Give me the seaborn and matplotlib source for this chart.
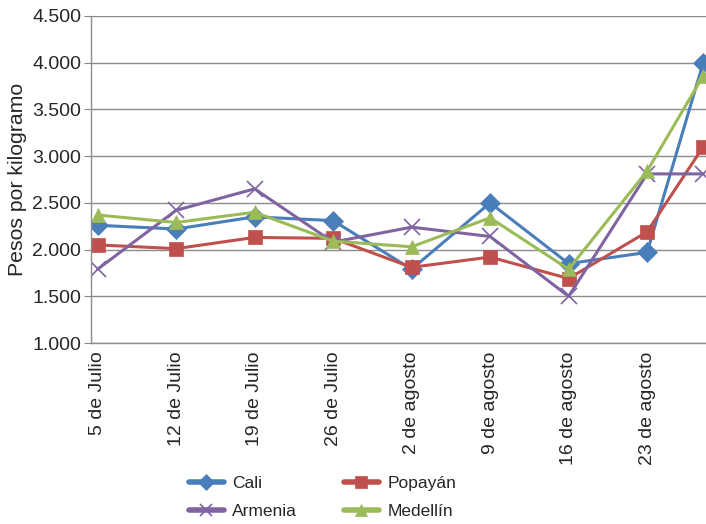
import pandas as pd
import numpy as np
import matplotlib
matplotlib.use("Agg")
import matplotlib.pyplot as plt
import seaborn as sns
from matplotlib.ticker import FuncFormatter

# -------------------
# Datos
# -------------------
fechas = ["2013-07-05", "2013-07-12", "2013-07-19", "2013-07-26", "2013-08-02",
          "2013-08-09", "2013-08-16", "2013-08-23", "2013-08-28"]
etiquetas = ["5 de Julio", "12 de Julio", "19 de Julio", "26 de Julio", "2 de agosto",
             "9 de agosto", "16 de agosto", "23 de agosto"]

cali = [2260, 2220, 2350, 2310, 1790, 2500, 1850, 1970, 4000]
popayan = [2050, 2010, 2130, 2120, 1810, 1920, 1690, 2190, 3100]
armenia = [1790, 2420, 2650, 2080, 2240, 2140, 1500, 2810, 2810]
medellin = [2370, 2290, 2400, 2090, 2030, 2340, 1790, 2840, 3860]

series = {"Cali": cali, "Popayán": popayan, "Armenia": armenia, "Medellín": medellin}
colores = {"Cali": "#4A7EBB", "Popayán": "#C0504D", "Armenia": "#8064A2", "Medellín": "#9BBB59"}
marcadores = {"Cali": "D", "Popayán": "s", "Armenia": "x", "Medellín": "^"}

df = pd.DataFrame([
    {"fecha": pd.Timestamp(f), "ciudad": c, "precio": v}
    for c, vals in series.items() for f, v in zip(fechas, vals)
])

# -------------------
# Grafico
# -------------------
sns.set_style("white")
plt.rcParams["font.family"] = ["Liberation Sans", "DejaVu Sans"]

fig = plt.figure(figsize=(7.06, 5.24), dpi=100)
ax = fig.add_axes([0.129, 0.3454, 0.871, 0.6241])

for ciudad in series:
    sub = df[df["ciudad"] == ciudad]
    m = marcadores[ciudad]
    sns.lineplot(data=sub, x="fecha", y="precio", ax=ax, color=colores[ciudad],
                 marker=m, markersize=10 if m != "x" else 11,
                 markeredgewidth=1.2 if m == "x" else 0.5,
                 markeredgecolor=colores[ciudad], linewidth=2.2, label=ciudad)

ax.set_ylim(1000, 4500)
ax.set_yticks(np.arange(1000, 4501, 500))
ax.yaxis.set_major_formatter(FuncFormatter(lambda v, p: f"{int(v):,}".replace(",", ".")))

x0 = pd.Timestamp(fechas[0])
ax.set_xlim(x0 - pd.Timedelta(days=0.58), pd.Timestamp(fechas[-1]) + pd.Timedelta(days=0.25))
ax.set_xticks([pd.Timestamp(f) for f in fechas[:8]])
ax.set_xticklabels(etiquetas, rotation=90)
ax.tick_params(axis="x", length=0, labelsize=14, pad=6)
ax.tick_params(axis="y", length=5, color="#868686", labelsize=14, left=True, pad=2)

ax.grid(axis="y", color="#8c8c8c", linewidth=1)
ax.grid(axis="x", visible=False)
for s in ["top", "right"]:
    ax.spines[s].set_visible(False)
for s in ["left", "bottom"]:
    ax.spines[s].set_color("#8c8c8c")
    ax.spines[s].set_linewidth(1)

ax.set_xlabel("")
ax.set_ylabel("Pesos por kilogramo", fontsize=15.3, labelpad=4)

h, l = ax.get_legend_handles_labels()
ax.get_legend().remove()
orden = [0, 2, 1, 3]
leg = fig.legend([h[i] for i in orden], [l[i] for i in orden], ncol=2, frameon=False,
                 loc="center", bbox_to_anchor=(0.457, 0.0506),
                 prop={"size": 12.5},
                 handlelength=2.0, columnspacing=2.7, handletextpad=0.5, labelspacing=0.75)
for ln in leg.get_lines():
    ln.set_linewidth(4)
    ln.set_markersize(8)

fig.savefig("out.png", dpi=100)
